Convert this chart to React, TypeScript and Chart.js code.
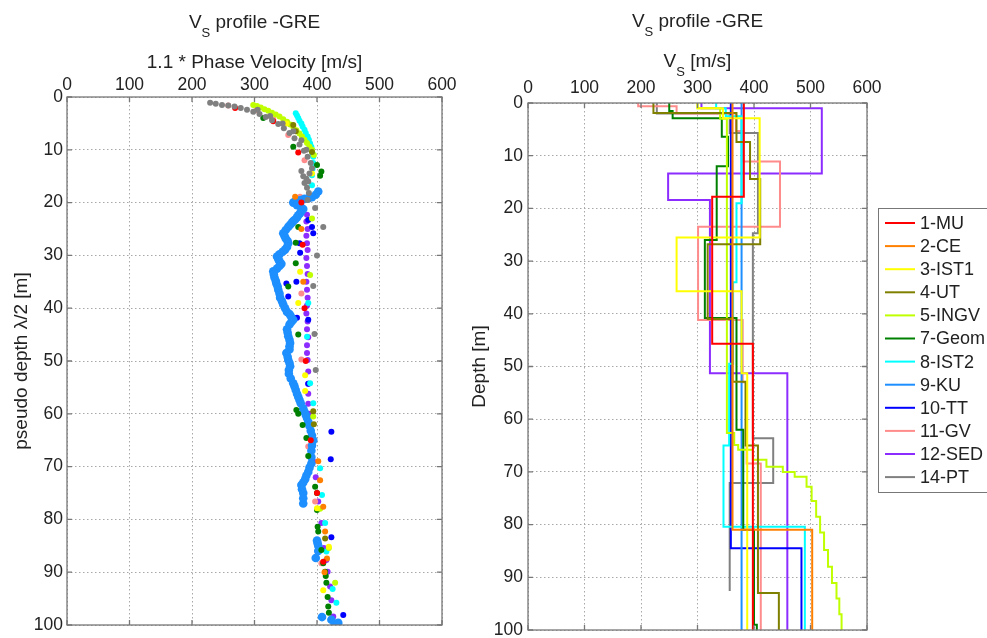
import React, { useEffect, useRef } from 'react';
import { Chart, registerables } from 'chart.js';

Chart.register(...registerables);

const FONT = "'Liberation Sans', Arial, Helvetica, sans-serif";

// ---------- axes ----------
const velTicks = [0, 100, 200, 300, 400, 500, 600];
const depthTicks = [0, 10, 20, 30, 40, 50, 60, 70, 80, 90, 100];

// ---------- series ----------
const seriesNames = ['1-MU', '2-CE', '3-IST1', '4-UT', '5-INGV', '7-Geom', '8-IST2', '9-KU', '10-TT', '11-GV', '12-SED', '14-PT'];
const seriesColors = ['#ff0000', '#ff8000', '#ffff00', '#808000', '#bfff00', '#008000', '#00ffff', '#1e8fff', '#0000ff', '#ff8c8c', '#8c2cff', '#808080'];

// ---------- left: 1.1 * phase velocity [m/s], pseudo depth [m] ----------
const muPts = [[269, 2.1], [330, 4.6], [370, 10.5], [375, 20], [377, 28], [380, 40], [382, 50], [390, 65], [400, 75], [410, 88]];
const cePts = [[365, 18.9], [375, 25], [378, 35], [402, 69], [405, 72.6], [410, 77.6], [413, 82.3], [416, 87.4], [412, 90]];
const ist1Pts = [[351, 5], [392, 14.5], [373, 33.1], [370, 39], [381, 52.7], [381, 55.7], [400, 77.9], [419, 85.2], [410, 93.4]];
const utPts = [[362, 5.3], [366, 6.5], [392, 10.4], [394, 59.5], [395, 62], [413, 83.6]];
const ingvPts = [[298, 1.5], [304, 1.7], [310, 2], [316, 2.3], [322, 2.6], [328, 3], [334, 3.3], [340, 3.7], [346, 4.2], [352, 4.7], [357, 5.2], [362, 5.7], [367, 6.3], [372, 6.9], [376, 7.5], [380, 8.1], [384, 8.7], [388, 9.4], [392, 10], [395, 11], [392, 23], [389, 33.7], [394, 60.5], [405, 78], [419, 85.4], [429, 92]];
const geomPts = [[314, 4], [362, 9.4], [400, 12.9], [407, 14.1], [405, 14.9], [370, 24.6], [366, 27.6], [366, 31.5], [354, 35.9], [370, 45], [367, 59.3], [370, 60], [377, 62.1], [383, 64.6], [386, 68], [400, 75], [397, 73.8], [400, 78.2], [401, 81.4], [402, 82.3], [407, 85.8], [410, 88.3], [413, 89.9], [414, 90.7], [415, 92], [417, 94.7], [418, 96.5], [419, 97.7]];
const ist2Pts = [[366, 3.1], [368, 3.5], [370, 4], [372, 4.5], [375, 5], [377, 5.6], [380, 6.2], [382, 6.8], [385, 7.5], [387, 8.1], [389, 8.8], [391, 9.4], [392, 10], [393, 10.7], [394, 11.3], [394, 12.5], [393, 13.6], [392, 14.8], [392, 16.7], [386, 39], [384, 45.4], [389, 54.2], [394, 58], [405, 70.3], [408, 75.4], [413, 80.7], [415, 86.1], [425, 93.2], [431, 95.8]];
const kuPts = [[402, 17.9], [398, 18.5], [392, 19], [386, 19.2], [380, 19.3], [375, 19.5], [370, 19.6], [365, 19.8], [362, 20], [368, 20.5], [374, 20.8], [378, 21.2], [375, 21.6], [373, 22], [370, 22.4], [368, 22.8], [365, 23.2], [362, 23.5], [360, 23.8], [357, 24.2], [354, 24.6], [350, 25.2], [346, 25.8], [348, 26.3], [350, 26.8], [353, 27.3], [354, 27.7], [352, 28.4], [349, 28.9], [345, 29.3], [340, 29.8], [336, 30.2], [338, 30.7], [340, 31.1], [343, 31.6], [340, 32], [336, 32.5], [330, 33], [331, 33.6], [332, 34.2], [334, 34.8], [335, 35.3], [337, 35.9], [338, 36.5], [340, 37.2], [341, 38], [344, 38.7], [346, 39.3], [349, 40], [352, 40.7], [356, 41.1], [358, 41.5], [362, 42.2], [359, 42.6], [356, 43.1], [352, 44], [353, 44.6], [354, 45.3], [356, 46], [357, 46.6], [356, 47.2], [356, 47.8], [351, 48.5], [353, 49.2], [354, 49.8], [356, 50.4], [357, 51], [355, 51.7], [355, 52.4], [358, 53.3], [362, 54.2], [364, 54.8], [366, 55.5], [368, 56.2], [370, 56.8], [372, 57.4], [374, 58], [378, 59], [380, 59.6], [382, 60.2], [384, 60.8], [386, 61.5], [388, 62.3], [390, 63.2], [392, 64.1], [394, 65], [392, 66], [391, 67], [391, 68.2], [391, 69.4], [388, 70.2], [386, 71], [383, 71.7], [381, 72.4], [378, 73], [375, 73.5], [376, 74.3], [378, 75], [378, 76], [378, 77], [400, 84], [401, 84.5], [402, 85], [402, 86], [398, 87.3], [408, 98.5], [423, 99], [428, 100], [434, 99.6]];
const ttPts = [[386, 23.3], [392, 24.6], [394, 25.8], [372, 27.7], [373, 29.5], [351, 35.3], [367, 35], [354, 37.8], [368, 41.8], [386, 42.2], [386, 54.3], [423, 63.4], [422, 68.6], [423, 83.4], [442, 98.1]];
const gvPts = [[258, 1.6], [303, 2.5], [330, 4.2], [354, 7.2], [380, 12], [373, 18.9], [375, 37.2], [375, 49.7], [386, 66.2], [397, 76.6], [407, 88.3]];
const sedPts = [[384, 22.3], [383, 23.6], [385, 25], [383, 26.3], [384, 27.7], [385, 29], [383, 30.5], [384, 32], [385, 33.5], [383, 35], [384, 36.5], [385, 38], [384, 39.5], [383, 41], [385, 42.5], [384, 44], [386, 45.5], [384, 47], [384, 48.5], [385, 49.8], [386, 52], [386, 54.3], [386, 56.2], [386, 58.1], [387, 60], [390, 63.1], [392, 67], [394, 69], [398, 72], [402, 76.6], [407, 80.7], [411, 85.4], [415, 87.7], [417, 89.9], [421, 92.7], [423, 95.3], [426, 98.4]];
const ptPts = [[229, 1.1], [238, 1.3], [248, 1.5], [258, 1.6], [268, 1.8], [278, 2.1], [288, 2.4], [298, 2.8], [305, 2.4], [308, 3.2], [318, 3.8], [325, 3.6], [328, 4.4], [338, 5.1], [345, 5], [347, 5.9], [356, 6.8], [362, 6.5], [364, 7.8], [372, 9], [375, 8.2], [379, 10.2], [383, 10], [385, 11.3], [390, 12.5], [392, 13.5], [388, 14.5], [375, 14], [378, 15], [383, 15.5], [386, 16], [380, 16.3], [384, 17.2], [387, 18.2], [385, 19.5], [397, 21], [410, 24.6], [400, 30], [394, 35.8], [396, 44.9], [398, 51.7]];

const leftSeries = [muPts, cePts, ist1Pts, utPts, ingvPts, geomPts, ist2Pts, kuPts, ttPts, gvPts, sedPts, ptPts];

// ---------- right: Vs profiles (layer velocity, layer top depth) ----------
const muVs = [382, 326, 398];
const muTop = [0, 17.8, 45.7];
const ceVs = [362, 503];
const ceTop = [0, 81];
const ist1Vs = [300, 345, 410, 263, 378, 388];
const ist1Top = [0, 1, 2.9, 25.5, 35.7, 51.3];
const utVs = [222, 369, 393, 411, 318, 362, 385, 407, 444];
const utTop = [0, 1.9, 7.4, 14.4, 26.8, 41, 52.9, 65, 93];
const ingvVs = [300, 340, 352, 365, 372, 398, 422, 451, 472, 493, 502, 510, 517, 524, 531, 538, 546, 551, 555];
const ingvTop = [0, 1, 3, 62.6, 64.9, 65.8, 67.7, 69, 70, 70.9, 72.8, 75.5, 78.5, 81.5, 84.8, 88, 91.1, 94, 97];
const geomVs = [250, 256, 343, 354, 334, 313, 369, 381, 400, 405];
const geomTop = [0, 1.5, 2.9, 6.4, 12, 26, 40.8, 62, 81, 99];
const ist2Vs = [333, 350, 378, 369, 363, 356, 346, 490];
const ist2Top = [0, 1, 2.5, 19, 34, 49.5, 65, 80.4];
const kuVs = [378];
const kuTop = [0];
const ttVs = [359, 484];
const ttTop = [0, 84.5];
const gvVs = [195, 263, 368, 381, 446, 301, 380, 387, 412];
const gvTop = [0, 0.6, 2, 5.3, 11.1, 23.5, 41.2, 53, 68.4];
const sedVs = [307, 520, 248, 322, 459];
const sedTop = [0, 1, 13.4, 18.4, 51.3];
const ptVs = [228, 357, 407, 398, 434, 357];
const ptTop = [0, 2, 5.7, 24.7, 63.6, 72.1];
const profileEnd = [100, 100, 100, 100, 100, 100, 100, 100, 100, 100, 100, 92.6];

const rightVs = [muVs, ceVs, ist1Vs, utVs, ingvVs, geomVs, ist2Vs, kuVs, ttVs, gvVs, sedVs, ptVs];
const rightTop = [muTop, ceTop, ist1Top, utTop, ingvTop, geomTop, ist2Top, kuTop, ttTop, gvTop, sedTop, ptTop];

type Seg = { t: string; sub?: boolean };

function drawRich(ctx: CanvasRenderingContext2D, segs: Seg[], cx: number, baseline: number) {
  const size = 19, subSize = 13, drop = 9;
  const fontOf = (s: Seg) => `${s.sub ? subSize : size}px ${FONT}`;
  let total = 0;
  const widths = segs.map((s) => {
    ctx.font = fontOf(s);
    const w = ctx.measureText(s.t).width;
    total += w;
    return w;
  });
  let x = cx - total / 2;
  ctx.textAlign = 'left';
  ctx.textBaseline = 'alphabetic';
  ctx.fillStyle = '#222';
  segs.forEach((s, i) => {
    ctx.font = fontOf(s);
    ctx.fillText(s.t, x, baseline + (s.sub ? drop : 0));
    x += widths[i];
  });
}

function makeFramePlugin(title: Seg[], subtitle: Seg[], titleY: number, subY: number) {
  return {
    id: 'frameTitles',
    afterDraw(chart: any) {
      const { ctx, chartArea: a, scales } = chart;
      ctx.save();
      ctx.strokeStyle = '#777';
      ctx.lineWidth = 1.3;
      ctx.strokeRect(a.left, a.top, a.right - a.left, a.bottom - a.top);
      const tl = 5;
      ctx.beginPath();
      scales.x.ticks.forEach((t: any) => {
        const px = scales.x.getPixelForValue(t.value);
        ctx.moveTo(px, a.top); ctx.lineTo(px, a.top + tl);
        ctx.moveTo(px, a.bottom); ctx.lineTo(px, a.bottom - tl);
      });
      scales.y.ticks.forEach((t: any) => {
        const py = scales.y.getPixelForValue(t.value);
        ctx.moveTo(a.left, py); ctx.lineTo(a.left + tl, py);
        ctx.moveTo(a.right, py); ctx.lineTo(a.right - tl, py);
      });
      ctx.stroke();
      const cx = (a.left + a.right) / 2;
      drawRich(ctx, title, cx, titleY);
      drawRich(ctx, subtitle, cx, subY);
      ctx.restore();
    },
  };
}

const legendPlugin = {
  id: 'boxLegend',
  afterDraw(chart: any) {
    const ctx = chart.ctx as CanvasRenderingContext2D;
    const bx = 413, by = 208, bh = 284;
    ctx.save();
    ctx.fillStyle = '#fff';
    ctx.fillRect(bx, by, 200, bh);
    ctx.strokeStyle = '#777';
    ctx.lineWidth = 1;
    ctx.strokeRect(bx + 0.5, by + 0.5, 200, bh);
    ctx.font = `18px ${FONT}`;
    ctx.textAlign = 'left';
    ctx.textBaseline = 'middle';
    seriesNames.forEach((n, i) => {
      const y = 223 + i * 23.1;
      ctx.strokeStyle = seriesColors[i];
      ctx.lineWidth = 2;
      ctx.beginPath();
      ctx.moveTo(420, y);
      ctx.lineTo(450, y);
      ctx.stroke();
      ctx.fillStyle = '#222';
      ctx.fillText(n, 455, y + 1);
    });
    ctx.restore();
  },
};

function axisX(height: number, pad: number) {
  return {
    type: 'linear' as const,
    position: 'top' as const,
    min: 0,
    max: 600,
    afterBuildTicks: (s: any) => { s.ticks = velTicks.map((v) => ({ value: v })); },
    afterFit: (s: any) => { s.height = height; s.paddingLeft = 0; s.paddingRight = 0; },
    grid: { color: '#a8a8a8', lineWidth: 1, drawTicks: false },
    border: { display: false, dash: [1.5, 2.5] },
    ticks: { padding: pad, color: '#222', font: { size: 17.5 }, maxRotation: 0 },
  };
}

function axisY(width: number, title: string, titlePad: number, tickPad: number) {
  return {
    type: 'linear' as const,
    min: 0,
    max: 100,
    reverse: true,
    afterBuildTicks: (s: any) => { s.ticks = depthTicks.map((v) => ({ value: v })); },
    afterFit: (s: any) => { s.width = width; s.paddingTop = 0; s.paddingBottom = 0; },
    grid: { color: '#a8a8a8', lineWidth: 1, drawTicks: false },
    border: { display: false, dash: [1.5, 2.5] },
    ticks: { padding: tickPad, color: '#222', font: { size: 17.5 } },
    title: { display: true, text: title, color: '#222', font: { size: 19 }, padding: { top: titlePad, bottom: 0 } },
  };
}

export default function App() {
  const leftRef = useRef<HTMLCanvasElement>(null);
  const rightRef = useRef<HTMLCanvasElement>(null);

  useEffect(() => {
    document.body.style.margin = '0';
    Chart.defaults.font.family = FONT;
    Chart.defaults.font.size = 17;
    Chart.defaults.color = '#222';

    const leftDatasets = leftSeries.map((pts, i) => ({
      label: seriesNames[i],
      data: pts.map(([x, y]) => ({ x, y })),
      backgroundColor: seriesColors[i],
      borderColor: seriesColors[i],
      pointRadius: i === 7 ? 4.3 : 3,
      pointBorderWidth: 0,
      showLine: false,
      order: i === 11 ? -1 : i,
    }));

    const left = new Chart(leftRef.current!, {
      type: 'scatter',
      data: { datasets: leftDatasets },
      options: {
        responsive: false,
        animation: false,
        devicePixelRatio: 1,
        events: [],
        layout: { padding: { left: 0, top: 0, right: 28, bottom: 13 } },
        plugins: { legend: { display: false }, tooltip: { enabled: false } },
        scales: {
          x: axisX(97, 1),
          y: axisY(67, 'pseudo depth \u03bb/2 [m]', 10, 4),
        },
      },
      plugins: [makeFramePlugin([{ t: 'V' }, { t: 'S', sub: true }, { t: ' profile -GRE' }], [{ t: '1.1 * Phase Velocity [m/s]' }], 28, 68)],
    });

    const rightDatasets = rightVs.map((vs, i) => {
      const tops = rightTop[i];
      const pts: { x: number; y: number }[] = [];
      vs.forEach((v, k) => {
        const bottom = k + 1 < tops.length ? tops[k + 1] : profileEnd[i];
        pts.push({ x: v, y: tops[k] });
        pts.push({ x: v, y: bottom });
      });
      return {
        label: seriesNames[i],
        data: pts,
        borderColor: seriesColors[i],
        backgroundColor: seriesColors[i],
        borderWidth: 2,
        pointRadius: 0,
        showLine: true,
        fill: false,
        tension: 0,
      };
    });

    const right = new Chart(rightRef.current!, {
      type: 'scatter',
      data: { datasets: rightDatasets },
      options: {
        responsive: false,
        animation: false,
        devicePixelRatio: 1,
        events: [],
        layout: { padding: { left: 0, top: 0, right: 120, bottom: 8 } },
        plugins: { legend: { display: false }, tooltip: { enabled: false } },
        scales: {
          x: axisX(103, 4),
          y: axisY(63, 'Depth [m]', 3, 5),
        },
      },
      plugins: [makeFramePlugin([{ t: 'V' }, { t: 'S', sub: true }, { t: ' profile -GRE' }], [{ t: 'V' }, { t: 'S', sub: true }, { t: ' [m/s]' }], 27, 67), legendPlugin],
    });

    return () => {
      left.destroy();
      right.destroy();
    };
  }, []);

  return (
    <div style={{ position: 'fixed', left: 0, top: 0, width: 987, height: 638, background: '#fff', overflow: 'hidden' }}>
      <canvas ref={leftRef} width={470} height={638} style={{ position: 'absolute', left: 0, top: 0, width: 470, height: 638 }} />
      <canvas ref={rightRef} width={522} height={638} style={{ position: 'absolute', left: 465, top: 0, width: 522, height: 638 }} />
    </div>
  );
}
